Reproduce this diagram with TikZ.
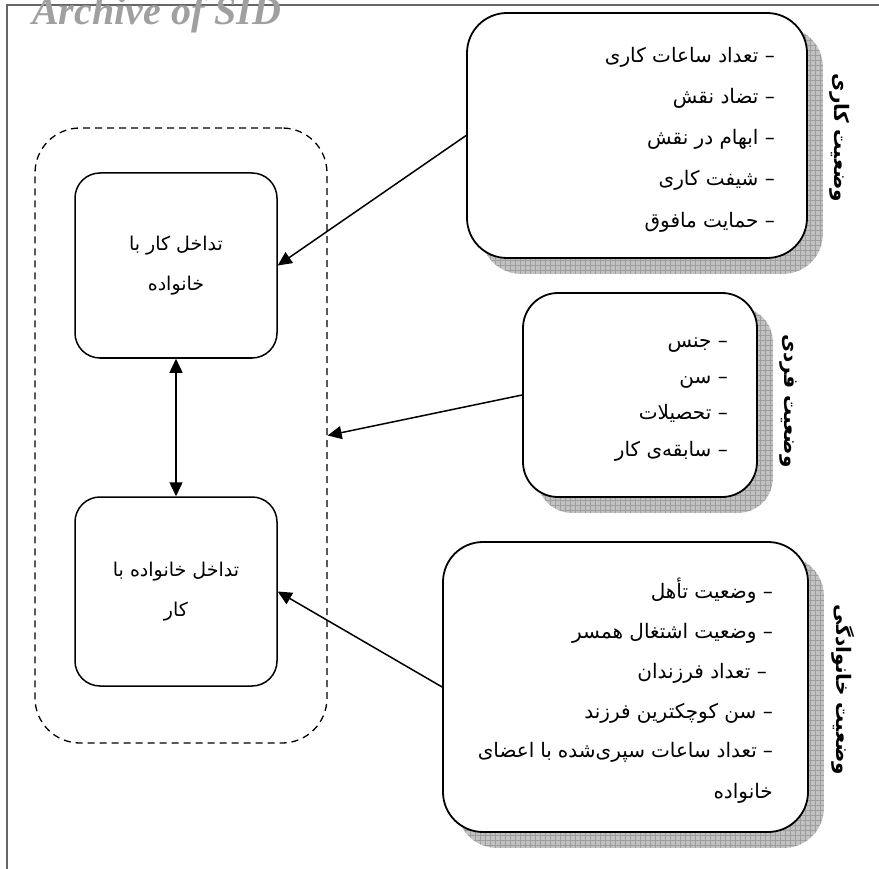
\documentclass[tikz,border=0pt]{standalone}
\usepackage{fontspec}
\setmainfont{Liberation Serif}
\newfontfamily\arabicfont[Script=Arabic]{DejaVu Sans}
\TeXXeTstate=1
\usetikzlibrary{arrows.meta,backgrounds}
\definecolor{wmgray}{RGB}{160,160,160}
\newcommand\gridshadow[2]{%
  \fill[shadowfill, rounded corners=#2] ([shift={(15pt,-15pt)}]#1.south west) rectangle ([shift={(15pt,-15pt)}]#1.north east);
  \begin{scope}
    \clip[rounded corners=#2] ([shift={(15pt,-15pt)}]#1.south west) rectangle ([shift={(15pt,-15pt)}]#1.north east);
    \draw[shadowgrid] ([shift={(15pt,-15pt)}]#1.south west) grid[step=5pt] ([shift={(15pt,-15pt)}]#1.north east);
  \end{scope}}
\begin{document}
\begin{tikzpicture}[x=1pt,y=-1pt,
  card/.style={draw, line width=1.8pt, fill=white, rounded corners=40pt, inner sep=0pt},
  ibox/.style={draw, line width=1.5pt, fill=white, rounded corners=25pt, align=center, inner sep=0pt,
    font=\arabicfont\fontsize{19}{40}\selectfont},
  itm/.style={anchor=base east, inner sep=0pt, font=\arabicfont\fontsize{20}{24}\selectfont},
  lbl/.style={rotate=-90, inner sep=0pt, font=\arabicfont\bfseries\fontsize{20}{24}\selectfont},
  conn/.style={line width=1.5pt, -{Triangle[length=14pt,width=13pt]}},
  shadowfill/.style={fill=black!24},
  shadowgrid/.style={draw=black!38, line width=0.5pt},
  grpbox/.style={draw, line width=1.3pt, dash pattern=on 7pt off 5pt, rounded corners=45pt, inner sep=0pt},
]
\useasboundingbox (0,0) rectangle (879,869);
\clip (0,0) rectangle (879,869);

% page frame
\draw[black!60, line width=1.5pt] (7,869) -- (7,5) -- (879,5);
\node[anchor=base west, inner sep=0pt, text=wmgray, font=\bfseries\itshape\fontsize{40}{40}\selectfont] (wm) at (32,25) {Archive of SID};

% group container
\node[grpbox, minimum width=292, minimum height=615] (grp) at (181,435.5) {};

% inner boxes
\node[ibox, minimum width=202, minimum height=185] (wf) at (176,265.5) {\beginR تداخل کار با\endR\\\beginR خانواده\endR};
\node[ibox, minimum width=202, minimum height=189] (fw) at (176,591.5) {\beginR تداخل خانواده با\endR\\\beginR کار\endR};

% cards
\node[card, minimum width=340, minimum height=245] (work) at (637,135.5) {};
\node[card, rounded corners=35pt, minimum width=234, minimum height=204] (indiv) at (640,395) {};
\node[card, minimum width=365, minimum height=290] (fam) at (625.5,687) {};

\begin{scope}[on background layer]
  \gridshadow{work}{40pt}
  \gridshadow{indiv}{35pt}
  \gridshadow{fam}{40pt}
\end{scope}

% labels
\node[lbl] (lw) at (840,138) {\beginR وضعیت کاری\endR};
\node[lbl] (li) at (788,401) {\beginR وضعیت فردی\endR};
\node[lbl] (lf) at (843,690) {\beginR وضعیت خانوادگی\endR};

% work items
\node[itm] (w1) at (775,63) {\beginR – تعداد ساعات کاری\endR};
\node[itm] (w2) at (775,104) {\beginR – تضاد نقش\endR};
\node[itm] (w3) at (775,145) {\beginR – ابهام در نقش\endR};
\node[itm] (w4) at (775,186) {\beginR – شیفت کاری\endR};
\node[itm] (w5) at (775,228) {\beginR – حمایت مافوق\endR};

% individual items
\node[itm] (i1) at (728,348) {\beginR – جنس\endR};
\node[itm] (i2) at (728,383) {\beginR – سن\endR};
\node[itm] (i3) at (728,419) {\beginR – تحصیلات\endR};
\node[itm] (i4) at (728,456) {\beginR – سابقه^^^^200cی کار\endR};

% family items
\node[itm] (f1) at (773,598) {\beginR – وضعیت تأهل\endR};
\node[itm] (f2) at (773,638) {\beginR – وضعیت اشتغال همسر\endR};
\node[itm] (f3) at (767,678) {\beginR – تعداد فرزندان\endR};
\node[itm] (f4) at (773,718) {\beginR – سن کوچکترین فرزند\endR};
\node[itm] (f5) at (773,757) {\makebox[295pt][s]{\beginR – تعداد ساعات سپری^^^^200cشده با اعضای\endR}};
\node[itm] (f6) at (773,798) {\beginR خانواده\endR};

% connectors
\draw[conn] (work.west) -- (wf.east);
\draw[conn] (indiv.west) -- (grp.east);
\draw[conn] (fam.west) -- (fw.east);
\draw[line width=1.5pt, {Triangle[length=14pt,width=13pt]}-{Triangle[length=14pt,width=13pt]}] (wf.south) -- (fw.north);
\end{tikzpicture}
\end{document}
